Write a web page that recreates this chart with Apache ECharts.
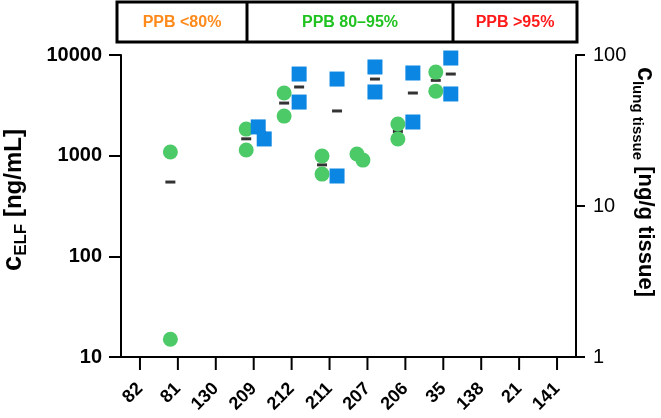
<!DOCTYPE html>
<html>
<head>
<meta charset="utf-8">
<script src="https://cdn.jsdelivr.net/npm/echarts@6/dist/echarts.min.js"></script>
<style>
  html, body { margin: 0; padding: 0; background: #fff; }
  #main { width: 661px; height: 418px; }
</style>
</head>
<body>
<div id="main"></div>
<script>
var categories = ['82', '81', '130', '209', '212', '211', '207', '206', '35', '138', '21', '141'];

// c_ELF [ng/mL], two animals per compound
var elfValues = [[], [1086, 15], [], [1837, 1137], [4190, 2473], [991, 656], [1038, 904], [2061, 1462], [6760, 4375], [], [], []];
var elfMeans = [null, 547, null, 1470, 3330, 810, 970, 1740, 5600, null, null, null];

// c_lung tissue [ng/g tissue]
var lungValues = [[], [], [], [33.4, 27.8], [74.8, 48.8], [69.3, 15.8], [83.3, 56.9], [76.0, 36.0], [95.5, 55.2], [], [], []];
var lungMeans = [null, null, null, 30.6, 61.4, 42.6, 69.3, 56.0, 74.8, null, null, null];

var ppbLabels = ['PPB <80%', 'PPB 80\u201395%', 'PPB >95%'];

var elfRange = [10, 10000];
var lungRange = [1, 100];

var font = 'Liberation Sans';
var green = '#4cca68';
var blue = '#0b86e2';
var gridTop = 55, gridBottom = 61, chartHeight = 418;
var plotHeight = chartHeight - gridTop - gridBottom;

// replicate points closer than a marker get spread sideways, like the original plot
function closeOn(range) {
    var decades = Math.log10(range[1] / range[0]);
    return function (a, b) {
        return Math.abs(Math.log10(a / b)) / decades * plotHeight < 14;
    };
}

function pointData(values, offset, closeFn) {
    var data = [];
    values.forEach(function (pair, i) {
        var close = pair.length === 2 ? closeFn(pair[0], pair[1]) : false;
        pair.forEach(function (v, j) {
            var item = {value: [i, v]};
            if (close) {
                item.symbolOffset = [offset + (j === 0 ? -3 : 3), 0];
            }
            data.push(item);
        });
    });
    return data;
}

function meanData(means) {
    var data = [];
    means.forEach(function (v, i) {
        if (v != null) data.push([i, v]);
    });
    return data;
}

function plain(v) {
    return String(v);
}

function nameRich(cSize, subSize, mainSize, lh) {
    return {
        c: {fontSize: cSize, fontWeight: 'bold', fontFamily: font, color: '#000', lineHeight: lh},
        sub: {fontSize: subSize, fontWeight: 'bold', fontFamily: font, color: '#000', lineHeight: subSize, verticalAlign: 'bottom'},
        m: {fontSize: mainSize, fontWeight: 'bold', fontFamily: font, color: '#000', lineHeight: lh}
    };
}

var banner = [
    {type: 'rect', shape: {x: 117, y: 2, width: 460, height: 40}, style: {fill: '#fff', stroke: '#000', lineWidth: 3}},
    {type: 'line', shape: {x1: 247, y1: 2, x2: 247, y2: 42}, style: {stroke: '#000', lineWidth: 3}},
    {type: 'line', shape: {x1: 453, y1: 2, x2: 453, y2: 42}, style: {stroke: '#000', lineWidth: 3}},
    {type: 'text', x: 182, y: 23, style: {text: ppbLabels[0], fill: '#ff8a1c', font: 'bold 16px ' + font, textAlign: 'center', textVerticalAlign: 'middle', align: 'center', verticalAlign: 'middle'}},
    {type: 'text', x: 350, y: 23, style: {text: ppbLabels[1], fill: '#1fc21f', font: 'bold 16px ' + font, textAlign: 'center', textVerticalAlign: 'middle', align: 'center', verticalAlign: 'middle'}},
    {type: 'text', x: 515, y: 23, style: {text: ppbLabels[2], fill: '#ff1a1a', font: 'bold 16px ' + font, textAlign: 'center', textVerticalAlign: 'middle', align: 'center', verticalAlign: 'middle'}}
];

var chart = echarts.init(document.getElementById('main'));

var option = {
    animation: false,
    textStyle: {fontFamily: font},
    grid: {left: 121, right: 85, top: gridTop, bottom: gridBottom, outerBoundsMode: 'none'},
    xAxis: {
        type: 'category',
        data: categories,
        axisLine: {onZero: false, lineStyle: {color: '#000', width: 2}},
        axisTick: {show: false},
        axisLabel: {show: false}
    },
    yAxis: [
        {
            type: 'log',
            logBase: 10,
            min: elfRange[0],
            max: elfRange[1],
            position: 'left',
            name: '{c|c}{sub|ELF}{m| [ng/mL]}',
            nameLocation: 'middle',
            nameRotate: 90,
            nameGap: 91,
            nameMoveOverlap: false,
            nameTextStyle: {padding: [0, 0, 0, 12], rich: nameRich(27, 17, 24, 32)},
            axisLine: {show: true, lineStyle: {color: '#000', width: 2}},
            axisTick: {show: true, length: 12, lineStyle: {color: '#000', width: 2}},
            axisLabel: {color: '#000', fontSize: 20, fontWeight: 'bold', margin: 19, fontFamily: font, formatter: plain},
            splitLine: {show: false}
        },
        {
            type: 'log',
            logBase: 10,
            min: lungRange[0],
            max: lungRange[1],
            position: 'right',
            name: '{c|c}{sub|lung tissue}{m| [ng/g tissue]}',
            nameLocation: 'middle',
            nameRotate: -90,
            nameGap: 54,
            nameMoveOverlap: false,
            nameTextStyle: {padding: [0, 48, 0, 0], rich: nameRich(25, 15, 22, 30)},
            axisLine: {show: true, lineStyle: {color: '#000', width: 2}},
            axisTick: {show: true, length: 9, lineStyle: {color: '#000', width: 2}},
            axisLabel: {color: '#000', fontSize: 20, margin: 17, fontFamily: font, formatter: plain},
            splitLine: {show: false}
        }
    ],
    graphic: banner,
    series: [
        {
            id: 'elfMean',
            type: 'scatter',
            yAxisIndex: 0,
            symbol: 'rect',
            symbolSize: [10, 3],
            symbolOffset: [-7.5, 0],
            itemStyle: {color: '#000'},
            z: 1,
            silent: true,
            data: meanData(elfMeans)
        },
        {
            id: 'lungMean',
            type: 'scatter',
            yAxisIndex: 1,
            symbol: 'rect',
            symbolSize: [10, 3],
            symbolOffset: [7.5, 0],
            itemStyle: {color: '#000'},
            z: 1,
            silent: true,
            data: meanData(lungMeans)
        },
        {
            id: 'elf',
            type: 'scatter',
            yAxisIndex: 0,
            symbol: 'circle',
            symbolSize: 15,
            symbolOffset: [-7.5, 0],
            itemStyle: {color: green, opacity: 1},
            z: 2,
            data: pointData(elfValues, -7.5, closeOn(elfRange))
        },
        {
            id: 'lung',
            type: 'scatter',
            yAxisIndex: 1,
            symbol: 'rect',
            symbolSize: 15,
            symbolOffset: [7.5, 0],
            itemStyle: {color: blue, opacity: 1},
            z: 2,
            data: pointData(lungValues, 7.5, closeOn(lungRange))
        }
    ]
};

chart.setOption(option);

// category ticks and 45-degree labels, placed from the x axis scale
var axisY = chart.convertToPixel({yAxisIndex: 0}, elfRange[0]);
var xMarks = [];
categories.forEach(function (name, i) {
    var tx = chart.convertToPixel({xAxisIndex: 0}, i);
    xMarks.push({
        type: 'line',
        shape: {x1: tx, y1: axisY, x2: tx, y2: axisY + 13},
        style: {stroke: '#000', lineWidth: 2}
    });
    xMarks.push({
        type: 'text',
        x: tx,
        y: axisY + 29,
        rotation: Math.PI / 4,
        style: {
            text: name,
            fill: '#000',
            font: 'bold 18px ' + font,
            textAlign: 'right',
            textVerticalAlign: 'middle',
            align: 'right',
            verticalAlign: 'middle'
        }
    });
});
chart.setOption({graphic: banner.concat(xMarks)});
</script>
</body>
</html>
